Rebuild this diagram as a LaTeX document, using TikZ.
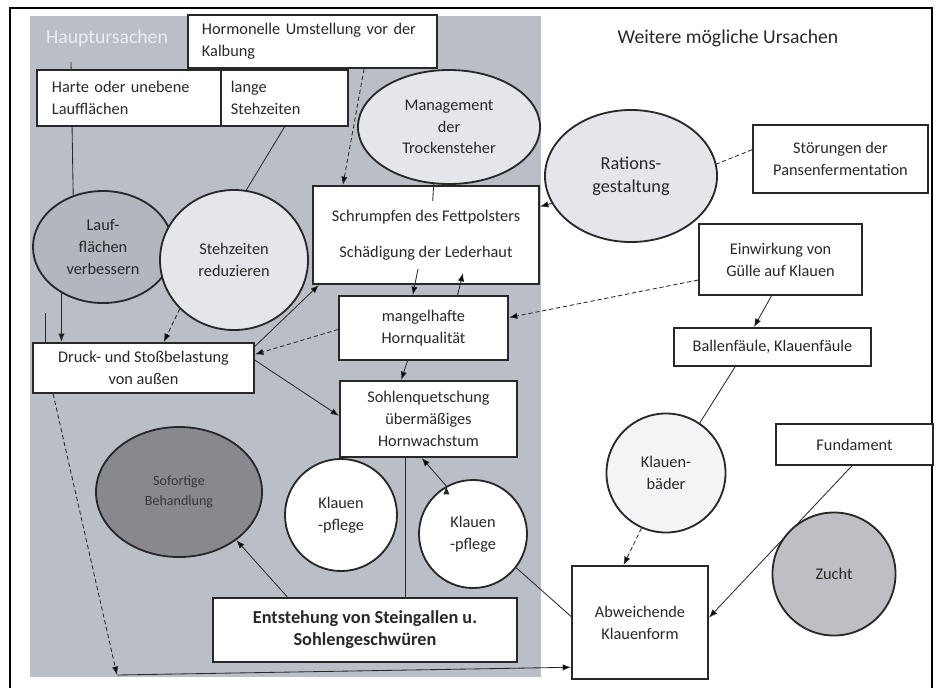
\documentclass[tikz,border=0pt]{standalone}
\usepackage{fontspec}
\setmainfont{Carlito}
\usetikzlibrary{shapes.geometric, arrows.meta, backgrounds}

\definecolor{ink}{RGB}{40,40,40}
\definecolor{softink}{RGB}{55,55,60}
\definecolor{headtext}{RGB}{236,237,241}
\definecolor{panel}{RGB}{186,190,198}
\definecolor{lightfill}{RGB}{229,230,235}
\definecolor{palefill}{RGB}{244,244,246}
\definecolor{laufgray}{RGB}{178,182,190}
\definecolor{darkfill}{RGB}{138,136,143}
\definecolor{zuchtfill}{RGB}{190,190,196}

\newcommand{\boxfont}{\fontsize{11.6}{15.5}\selectfont}
\newcommand{\headfont}{\fontsize{14}{16}\selectfont}

\begin{document}
\begin{tikzpicture}[x=0.025cm, y=-0.025cm, >={Latex[length=6pt,width=4.5pt]},
    box/.style={draw=ink, line width=1.3pt, fill=white, align=center, font=\boxfont, text=ink},
    lbox/.style={box, align=left, text width=#1},
    bubble/.style={ellipse, draw=ink, line width=1.3pt, inner sep=0pt, align=center, font=\boxfont, text=ink},
    disc/.style={circle, draw=ink, line width=1.3pt, inner sep=0pt, align=center, font=\boxfont, text=ink},
    link/.style={draw=ink, line width=0.6pt}]

    \useasboundingbox (0,0) rectangle (941,687);
    \begin{scope}[on background layer]
        \fill[panel] (30,16) rectangle (541,677);
    \end{scope}
    \draw[line width=1.6pt] (10,700) -- (10,8) -- (932,8) -- (932,700);

    \node[font=\headfont, text=headtext] (haupt) at (107,38) {Hauptursachen};
    \node[font=\headfont, text=ink] (weitere) at (728,38) {Weitere mögliche Ursachen};

    \node[lbox=5.525cm, inner xsep=0.35cm, minimum height=1.325cm] (hormon) at (312.5,41.5) {Hormonelle Umstellung vor der\\Kalbung};
    \node[lbox=3.85cm, inner xsep=0.375cm, minimum height=1.4cm] (harte) at (129,98) {Harte oder unebene\\Laufflächen};
    \node[lbox=2.675cm, inner xsep=0.25cm, minimum height=1.4cm] (lange) at (284.5,98) {lange\\Stehzeiten};
    \node[bubble, fill=lightfill, minimum width=4.55cm, minimum height=2.85cm] (mgmt) at (449,127) {Management\\der\\Trockensteher};
    \node[bubble, fill=lightfill, minimum width=4.3cm, minimum height=3.3cm, font=\fontsize{13}{16.5}\selectfont] (rations) at (631,176) {Rations-\\gestaltung};
    \node[box, minimum width=4.375cm, minimum height=1.7cm] (stoer) at (840.5,159) {Störungen der\\Pansenfermentation};
    \node[box, minimum width=5.65cm, minimum height=2.45cm] (schrumpf) at (426,235) {Schrumpfen des Fettpolsters\\[10pt]Schädigung der Lederhaut};
    \node[box, minimum width=4.075cm, minimum height=1.775cm] (einw) at (780.5,259.5) {Einwirkung von\\Gülle auf Klauen};
    \node[box, minimum width=4.225cm, minimum height=1.6cm] (mangel) at (423.5,328) {mangelhafte\\Hornqualität};
    \node[box, minimum width=5.525cm, minimum height=1.25cm] (druck) at (143.5,368) {Druck- und Stoßbelastung\\von außen};
    \node[box, minimum width=4.925cm, minimum height=0.95cm] (ballen) at (772.5,347) {Ballenfäule, Klauenfäule};
    \node[box, minimum width=4.425cm, minimum height=1.9cm] (sohle) at (428.5,419) {Sohlenquetschung\\übermäßiges\\Hornwachstum};
    \node[bubble, fill=laufgray, minimum width=3.5cm, minimum height=2.8cm] (lauf) at (103,247) {Lauf-\\flächen\\verbessern};
    \node[bubble, fill=lightfill, minimum width=3.7cm, minimum height=3.5cm] (stehz) at (234,260) {Stehzeiten\\reduzieren};
    \node[bubble, fill=darkfill, minimum width=4.15cm, minimum height=3.25cm, font=\fontsize{10}{14}\selectfont, text=softink] (sofort) at (179,492) {Sofortige\\Behandlung};
    \node[disc, fill=white, minimum size=2.8cm] (pflege1) at (341,515) {Klauen\\-pflege};
    \node[disc, fill=white, minimum size=2.7cm] (pflege2) at (473,534) {Klauen\\-pflege};
    \node[box, minimum width=7.6cm, minimum height=1.6cm, font=\bfseries\fontsize{13}{15.5}\selectfont] (entst) at (365,630) {Entstehung von Steingallen u.\\Sohlengeschwüren};
    \node[disc, fill=palefill, minimum size=2.975cm] (baeder) at (666,473) {Klauen-\\bäder};
    \node[box, minimum width=3.925cm, minimum height=1.025cm] (fund) at (854.5,444.5) {Fundament};
    \node[disc, fill=zuchtfill, minimum size=3.075cm] (zucht) at (834,574) {Zucht};
    \node[box, minimum width=3.4cm, minimum height=2.825cm] (abw) at (640,622.5) {Abweichende\\Klauenform};

    \coordinate (hstub) at (71,62);
    \coordinate (vl) at (45,313);
    \coordinate (dk) at (117,675);

    \begin{scope}[on background layer]
        \path[link]
        (hstub) edge (lauf.120)
        (fund.263) edge[->] (abw.4);
    \end{scope}

    \path[link, ->]
    (hormon.-28) edge[densely dashed] (schrumpf.149)
    (rations.199) edge (schrumpf.14)
    ([shift={(-8,-16)}]schrumpf.south) edge (mangel.108)
    (mangel.44) edge ([shift={(37,-12)}]schrumpf.south)
    (einw.194) edge[densely dashed] (mangel.7)
    (einw.256) edge (ballen.133)
    (baeder.246) edge[densely dashed] (abw.106)
    (mangel.244) edge (sohle.125)
    (druck.4) edge (sohle.178)
    (mangel.181) edge[densely dashed] (druck.7)
    (druck.11) edge (schrumpf.205)
    (lauf.228) edge[line width=1pt] (lauf.228 |- druck.north)
    (stehz.222) edge[densely dashed] (druck.52)
    (druck.196) edge[densely dashed] (dk)
    (dk) edge (abw.213)
    (entst.157) edge (sofort.320)
    (pflege2.119) edge (sohle.260);

    \path[link]
    (lange.south) edge (stehz.80)
    (stoer.174) edge[densely dashed] (rations.8)
    (mgmt.255) edge ([shift={(-1,17)}]mgmt.255)
    (vl) edge (vl |- druck.north)
    (sohle.239) edge (sohle.239 |- entst.north)
    (ballen.208) edge (baeder.56)
    (pflege2.322) edge (abw.175);
\end{tikzpicture}
\end{document}
